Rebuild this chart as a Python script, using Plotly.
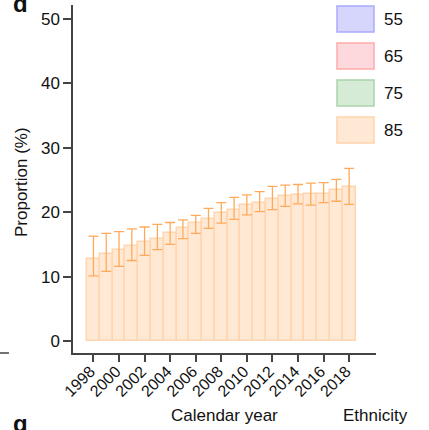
import plotly.graph_objects as go

years = list(range(1998, 2019))
values = [12.8, 13.5, 14.1, 14.7, 15.3, 15.9, 16.7, 17.5, 18.3, 19.0, 19.8,
          20.4, 21.1, 21.5, 22.0, 22.5, 22.7, 22.8, 22.9, 23.4, 23.9]
err_upper = [16.3, 16.7, 17.0, 17.4, 17.7, 18.1, 18.4, 18.8, 19.5, 20.6, 21.5,
             22.3, 22.7, 23.2, 24.0, 24.2, 24.3, 24.5, 24.6, 25.1, 26.8]
err_lower = [10.1, 10.8, 11.6, 12.5, 13.3, 14.2, 15.0, 15.9, 16.7, 17.5, 18.3,
             18.9, 19.6, 20.1, 20.4, 20.9, 21.3, 21.1, 21.5, 21.7, 21.2]
legend_labels = ["55", "65", "75", "85"]
legend_fill = ["#d6d6fc", "#fdd8dc", "#d6ebd6", "#ffe9d4"]
legend_line = ["#aaaaff", "#ffaaaa", "#aad4aa", "#ffd4aa"]
y_ticks = [0, 10, 20, 30, 40, 50]
x_ticks = list(range(1998, 2019, 2))

FONT = "Liberation Sans, Arial, sans-serif"

fig = go.Figure()
fig.add_trace(go.Bar(
    x=years, y=values, width=1.0,
    marker=dict(color="#ffe9d4", line=dict(color="#ffd6b0", width=1.5)),
    error_y=dict(type="data", symmetric=False,
                 array=[u - v for u, v in zip(err_upper, values)],
                 arrayminus=[v - l for v, l in zip(values, err_lower)],
                 color="#ffaa5a", thickness=1.3, width=5),
    showlegend=False,
))

L, R, T, B = 73, 53, 5, 77
W, H = 429, 430
pw, ph = W - L - R, H - T - B

def px(x):
    return (x - L) / pw

def py(y):
    return (H - B - y) / ph

shapes = []
annotations = []
for i, lab in enumerate(legend_labels):
    y0 = 6 + i * 37
    shapes.append(dict(type="rect", xref="paper", yref="paper",
                       x0=px(337), x1=px(374), y0=py(y0 + 26), y1=py(y0),
                       fillcolor=legend_fill[i], line=dict(color=legend_line[i], width=1.5)))
    annotations.append(dict(text=lab, xref="paper", yref="paper", x=px(382), y=py(y0 + 13),
                            xanchor="left", yanchor="middle", showarrow=False,
                            font=dict(size=17, color="#111", family=FONT)))

shapes.append(dict(type="line", xref="paper", yref="paper", x0=px(0), x1=px(9),
                   y0=py(353), y1=py(353), line=dict(color="#444", width=1.5)))

annotations += [
    dict(text="Calendar year", xref="paper", yref="paper", x=px(224), y=py(415),
         xanchor="center", yanchor="middle", showarrow=False,
         font=dict(size=17, color="#111", family=FONT)),
    dict(text="Ethnicity", xref="paper", yref="paper", x=px(375), y=py(415),
         xanchor="center", yanchor="middle", showarrow=False,
         font=dict(size=17, color="#111", family=FONT)),
    dict(text="Proportion (%)", xref="paper", yref="paper", x=px(21), y=py(182),
         xanchor="center", yanchor="middle", textangle=-90, showarrow=False,
         font=dict(size=17, color="#111", family=FONT)),
    dict(text="<b>d</b>", xref="paper", yref="paper", x=px(11), y=py(19),
         xanchor="left", yanchor="bottom", showarrow=False,
         font=dict(size=24, color="#111", family=FONT)),
    dict(text="<b>g</b>", xref="paper", yref="paper", x=px(11), y=py(408),
         xanchor="left", yanchor="top", showarrow=False,
         font=dict(size=24, color="#111", family=FONT)),
]

fig.update_layout(
    width=W, height=H,
    margin=dict(l=L, r=R, t=T, b=B),
    paper_bgcolor="white", plot_bgcolor="white",
    bargap=0,
    shapes=shapes, annotations=annotations,
    font=dict(family=FONT, color="#111"),
    xaxis=dict(range=[1996.4, 2020.1], tickvals=x_ticks, ticktext=[str(t) for t in x_ticks],
               tickangle=-45, ticks="outside", ticklen=7, tickwidth=1.5, tickcolor="#444",
               ticklabelstandoff=-6, ticklabelshift=-3,
               showline=True, linecolor="#444", linewidth=1.5, showgrid=False, zeroline=False,
               tickfont=dict(size=16, family=FONT, color="#111")),
    yaxis=dict(range=[-1.86, 52.17], tickvals=y_ticks, ticks="outside", ticklen=8,
               tickwidth=1.5, tickcolor="#444",
               showline=True, linecolor="#444", linewidth=1.5, showgrid=False, zeroline=False,
               tickfont=dict(size=17, family=FONT, color="#111")),
)

fig.write_html("out.html")
